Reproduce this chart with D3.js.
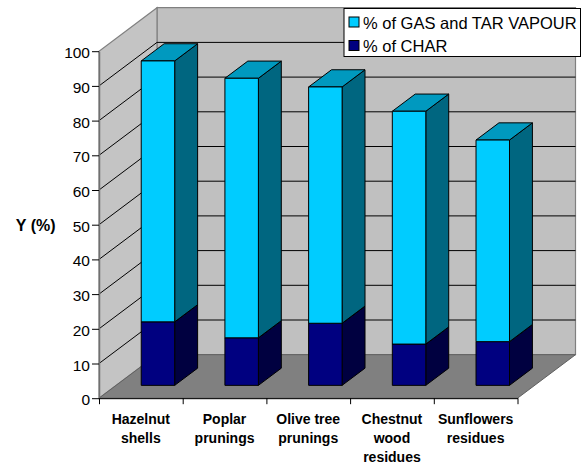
<!DOCTYPE html>
<html>
<head>
<meta charset="utf-8">
<style>
html, body { margin: 0; padding: 0; background: #fff; }
svg { display: block; }
text { font-family: "Liberation Sans", Arial, sans-serif; fill: #000; }
</style>
<script src="https://cdn.jsdelivr.net/npm/d3@7"></script>
</head>
<body>
<svg id="chart" width="587" height="465"></svg>
<script>
const categories = [
  ["Hazelnut", "shells"],
  ["Poplar", "prunings"],
  ["Olive tree", "prunings"],
  ["Chestnut", "wood", "residues"],
  ["Sunflowers", "residues"]
];
const charValues = [18.3, 13.7, 17.9, 11.9, 12.6];
const gasValues = [75.2, 74.8, 68.1, 67.1, 58.1];
const legendLabels = ["% of GAS and TAR VAPOUR", "% of CHAR"];
const yTicks = [0, 10, 20, 30, 40, 50, 60, 70, 80, 90, 100];

const svg = d3.select("#chart");

// Front plane of the oblique box and the offset of its back wall
const plotLeft = 99, plotRight = 517.5, plotBottom = 398.2, plotTop = 51.2;
const depthX = 58, depthY = 43.5;
// Fractions of the depth at which the bars start and end
const barNear = 0.295, barFar = 0.69;

const y = d3.scaleLinear().domain([0, 100]).range([plotBottom, plotTop]);
const x = d3.scaleBand().domain(d3.range(categories.length)).range([plotLeft, plotRight]).padding(0);
const barPad = 0.3 * x.bandwidth();

// Project (px, value-height, depth fraction) to the oblique view
const pt = (px, v, d) => [px + d * depthX, y(v) - d * depthY];
const poly = pts => d3.line()(pts) + "Z";

const walls = svg.append("g");
walls.append("path")
  .attr("d", poly([pt(plotLeft, 0, 1), pt(plotRight, 0, 1), pt(plotRight, 100, 1), pt(plotLeft, 100, 1)]))
  .attr("fill", "#c0c0c0").attr("stroke", "#808080").attr("stroke-width", 1.2);
walls.append("path")
  .attr("d", poly([pt(plotLeft, 0, 0), pt(plotLeft, 0, 1), pt(plotLeft, 100, 1), pt(plotLeft, 100, 0)]))
  .attr("fill", "#c4c4c4").attr("stroke", "#808080").attr("stroke-width", 1.2);
walls.append("path")
  .attr("d", poly([pt(plotLeft, 0, 0), pt(plotRight, 0, 0), pt(plotRight, 0, 1), pt(plotLeft, 0, 1)]))
  .attr("fill", "#808080").attr("stroke", "#606060").attr("stroke-width", 1);

// Gridlines run along the side wall and across the back wall
const grid = svg.append("g").attr("fill", "none").attr("stroke", "#000").attr("stroke-width", 1);
yTicks.filter(v => v > 0 && v < 100).forEach(v => {
  grid.append("path").attr("d", d3.line()([pt(plotLeft, v, 0), pt(plotLeft, v, 1), pt(plotRight, v, 1)]));
});

// Stacked bars: the char segment sits below the gas and tar vapour segment
const segmentColors = [
  { front: "#000080", side: "#000040", top: "#000060" },
  { front: "#00ccff", side: "#006680", top: "#0099bf" }
];
const barsG = svg.append("g").attr("stroke", "#000").attr("stroke-width", 1).attr("stroke-linejoin", "round");
categories.forEach((c, i) => {
  const x0 = x(i) + barNear * depthX + barPad;
  const x1 = x0 + x.bandwidth() - 2 * barPad;
  const dz = barFar - barNear;
  const segs = [[0, charValues[i]], [charValues[i], charValues[i] + gasValues[i]]];
  segs.forEach(([a, b], k) => {
    const col = segmentColors[k];
    const front = (px, v) => [px, y(v) - barNear * depthY];
    const back = (px, v) => [px + dz * depthX, y(v) - barFar * depthY];
    barsG.append("path")
      .attr("d", poly([front(x1, a), back(x1, a), back(x1, b), front(x1, b)]))
      .attr("fill", col.side);
    barsG.append("path")
      .attr("d", poly([front(x0, b), front(x1, b), back(x1, b), back(x0, b)]))
      .attr("fill", col.top);
    barsG.append("path")
      .attr("d", poly([front(x0, a), front(x1, a), front(x1, b), front(x0, b)]))
      .attr("fill", col.front);
  });
});

// Value axis
const yAxis = svg.append("g")
  .attr("transform", `translate(${plotLeft},0)`)
  .call(d3.axisLeft(y).tickValues(yTicks).tickSize(7).tickPadding(2).tickSizeOuter(0));
yAxis.select(".domain").attr("stroke", "#707070").attr("stroke-width", 1.5);
yAxis.selectAll("text").style("font-size", "15.5px").attr("dy", "0.42em")
  .style("font-family", '"Liberation Sans", Arial, sans-serif');

// Category axis: ticks fall on the band boundaries
const xBoundaries = d3.scaleLinear().domain([0, categories.length]).range([plotLeft, plotRight]);
const xAxis = svg.append("g")
  .attr("transform", `translate(0,${plotBottom})`)
  .call(d3.axisBottom(xBoundaries).tickValues(d3.range(categories.length + 1)).tickSize(6).tickFormat("").tickSizeOuter(0));
xAxis.select(".domain").attr("stroke", "#000");

const catLabels = svg.append("g")
  .attr("text-anchor", "middle")
  .style("font-size", "14px").style("font-weight", "bold");
categories.forEach((lines, i) => {
  lines.forEach((line, j) => {
    catLabels.append("text")
      .attr("x", x(i) + x.bandwidth() / 2)
      .attr("y", 424 + j * 19.2)
      .text(line);
  });
});

svg.append("text")
  .attr("x", 35.7).attr("y", 230.5)
  .attr("text-anchor", "middle")
  .style("font-size", "16px").style("font-weight", "bold")
  .text("Y (%)");

// Legend
const legend = svg.append("g");
legend.append("rect")
  .attr("x", 344).attr("y", 8.5).attr("width", 236.5).attr("height", 48)
  .attr("fill", "#fff").attr("stroke", "#000");
legendLabels.forEach((label, i) => {
  const rowY = 17 + i * 23.5;
  legend.append("rect")
    .attr("x", 349).attr("y", rowY).attr("width", 10).attr("height", 10)
    .attr("fill", segmentColors[1 - i].front).attr("stroke", "#000");
  legend.append("text")
    .attr("x", 363).attr("y", rowY + 11.5)
    .style("font-size", "16.5px")
    .text(label);
});
</script>
</body>
</html>
